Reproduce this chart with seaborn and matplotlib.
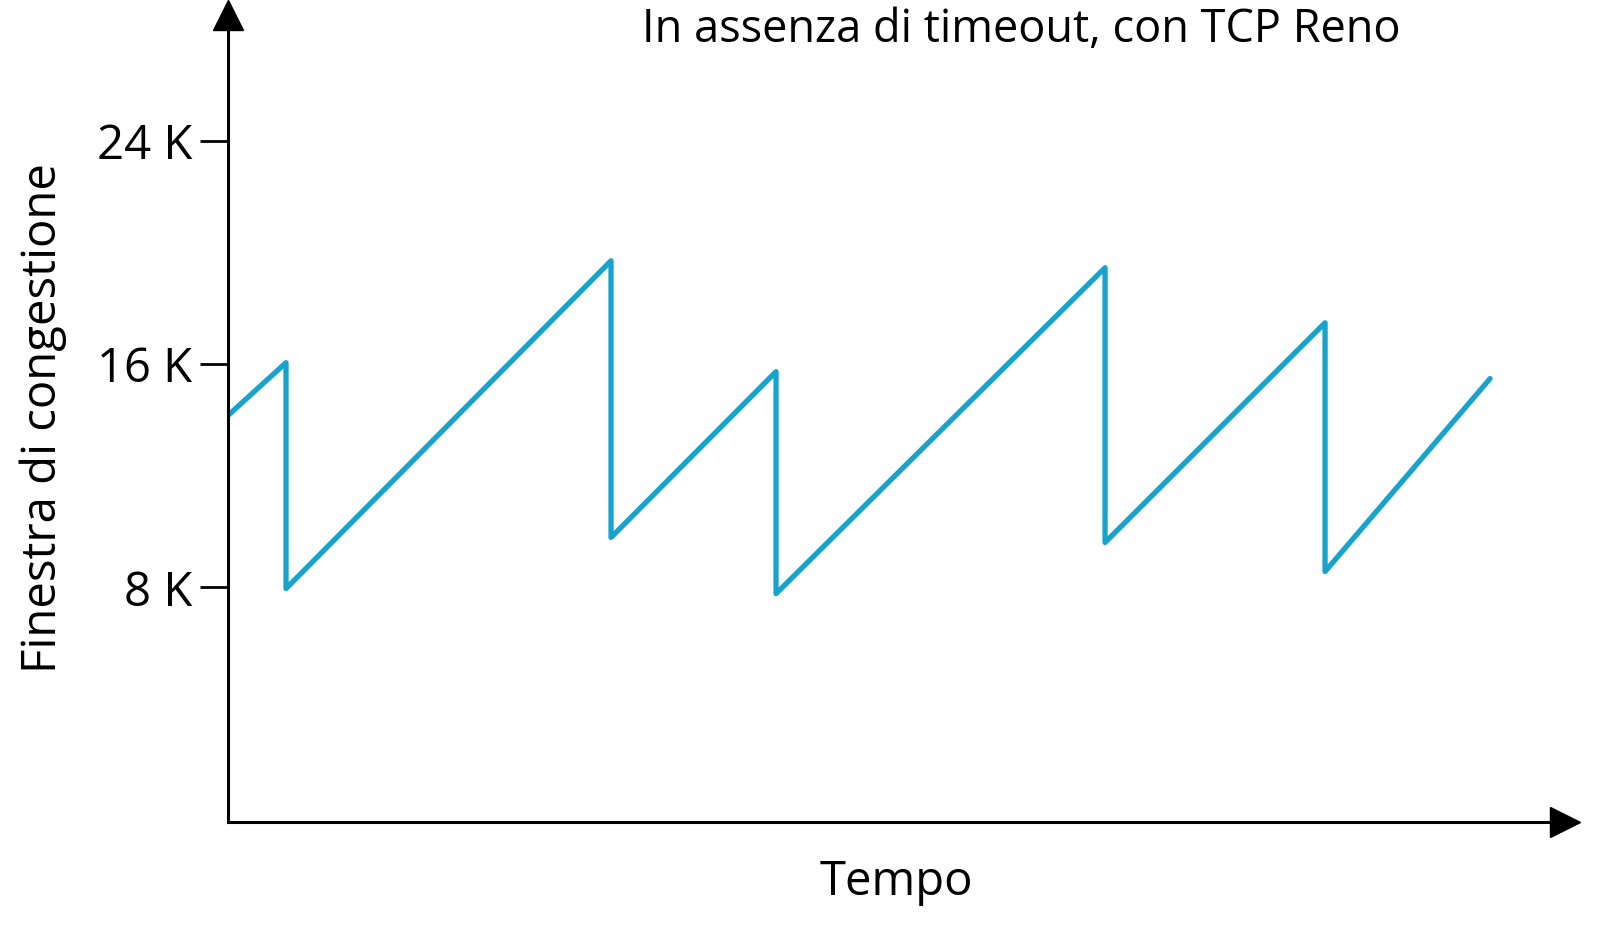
import matplotlib
matplotlib.use("Agg")
import matplotlib.pyplot as plt
import seaborn as sns
import pandas as pd

# sawtooth of the congestion window (K), time in arbitrary units
tempo = [0, 5.8, 5.8, 38.3, 38.3, 54.8, 54.8, 87.7, 87.7, 109.7, 109.7, 126.2]
finestra = [14.16, 16.05, 7.96, 19.70, 9.79, 15.73, 7.78, 19.45, 9.61, 17.48, 8.57, 15.48]
y_ticks = [8, 16, 24]
y_labels = ['8 K', '16 K', '24 K']

df = pd.DataFrame({'tempo': tempo, 'finestra': finestra})

sns.set_style("white")
plt.rcParams['font.family'] = ['Open Sans', 'DejaVu Sans']
plt.rcParams['text.color'] = 'black'
plt.rcParams['axes.labelcolor'] = 'black'
plt.rcParams['ytick.color'] = 'black'

fig = plt.figure(figsize=(16.08, 9.34), dpi=100)
ax = fig.add_axes([0.1418, 0.1199, 0.8315, 0.864])

sns.lineplot(data=df, x='tempo', y='finestra', estimator=None, sort=False,
             color='#17a3cb', linewidth=3.8, ax=ax)

ax.set_xlim(0, 133.7)
ax.set_ylim(-0.4, 28.5)
sns.despine(ax=ax)
for s in ['left', 'bottom']:
    ax.spines[s].set_linewidth(2.2)
    ax.spines[s].set_color('black')

ax.set_xticks([])
ax.set_yticks(y_ticks)
ax.set_yticklabels(y_labels, fontsize=34)
ax.tick_params(axis='y', direction='out', length=20, width=2, left=True, pad=6)

# axis arrows
ax.plot(0, 1, marker='^', color='black', markersize=21, transform=ax.transAxes, clip_on=False)
ax.plot(1, 0, marker='>', color='black', markersize=21, transform=ax.transAxes, clip_on=False)

ax.set_xlabel('Tempo', fontsize=34, labelpad=26)
ax.set_ylabel('Finestra di congestione', fontsize=34, labelpad=21)

fig.text(0.635, 0.968, 'In assenza di timeout, con TCP Reno', fontsize=32.5,
         ha='center', va='center')

fig.savefig('out.png', dpi=100)
